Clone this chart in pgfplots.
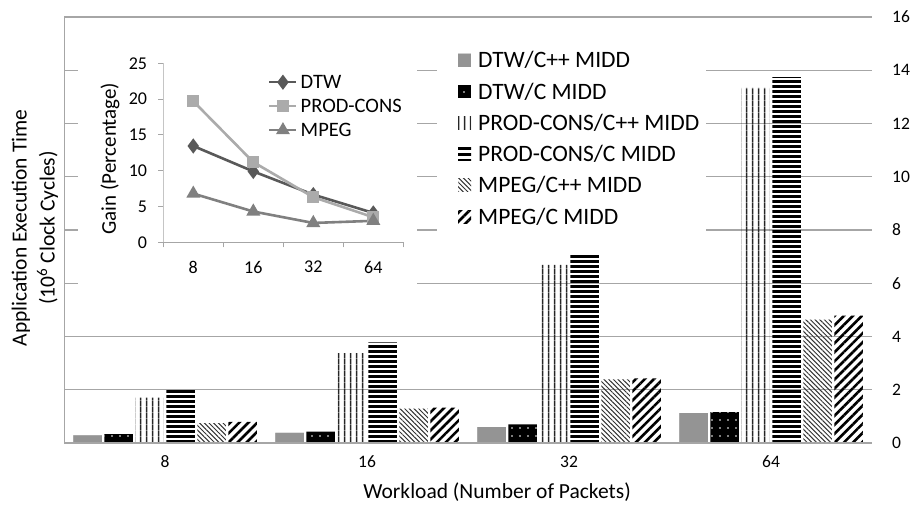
\documentclass[border=0pt]{standalone}
\usepackage{fontspec}
\setmainfont{Carlito}
\usepackage{pgfplots}
\pgfplotsset{compat=1.18}
\usetikzlibrary{patterns,patterns.meta}
\definecolor{gridc}{HTML}{A6A6A6}
\definecolor{axc}{HTML}{A6A6A6}
\definecolor{dtwc}{HTML}{595959}
\definecolor{pcc}{HTML}{ABABAB}
\definecolor{mpegc}{HTML}{808080}
\pgfdeclarepatternformonly{vthick}{\pgfpointorigin}{\pgfpoint{6bp}{6bp}}{\pgfpoint{6bp}{6bp}}{%
  \pgfpathrectangle{\pgfpoint{2.2bp}{-0.5bp}}{\pgfpoint{1.6bp}{7bp}}\pgfusepath{fill}}
\pgfdeclarepatternformonly{hthick}{\pgfpointorigin}{\pgfpoint{5.4bp}{5.4bp}}{\pgfpoint{5.4bp}{5.4bp}}{%
  \pgfpathrectangle{\pgfpoint{-0.5bp}{1.2bp}}{\pgfpoint{6.4bp}{3bp}}\pgfusepath{fill}}
\tikzset{
  patA/.style={draw=none, fill=gray!60, postaction={pattern={Dots[distance=2bp, radius=0.6bp]}, pattern color=black!80}},
  patB/.style={draw=none, fill=black, postaction={pattern={Dots[distance=8bp, radius=0.9bp]}, pattern color=white}},
  patC/.style={draw=none, pattern=vthick, pattern color=black!85},
  patD/.style={draw=none, pattern=hthick, pattern color=black},
  patE/.style={draw=none, pattern={Lines[angle=-45, distance=3.3bp, line width=1bp]}, pattern color=black!80},
  patF/.style={draw=none, pattern={Lines[angle=45, distance=6.4bp, line width=2.6bp]}, pattern color=black},
}
\begin{document}
\begin{tikzpicture}
\useasboundingbox (0,0) rectangle (912bp,508bp);
\begin{axis}[
  at={(64bp,65bp)}, anchor=south west,
  scale only axis, width=808bp, height=426bp,
  xmin=-0.5, xmax=3.5, ymin=0, ymax=16,
  ybar=2.5bp, bar width=28.5bp,
  xtick={0,1,2,3}, xticklabels={8,16,32,64},
  ytick={0,2,...,16},
  yticklabel pos=right,
  axis line style={draw=none},
  major tick length=0pt,
  ymajorgrids, grid style={gridc, line width=1.1bp},
  /pgf/number format/assume math mode=true,
  tick label style={font=\fontsize{17.5bp}{20bp}\selectfont, inner sep=0pt},
  yticklabel style={anchor=west, xshift=20bp},
  xticklabel style={anchor=center, yshift=-19bp},
  xlabel={Workload (Number of Packets)},
  xlabel style={at={(axis description cs:0.536,-0.115)}, anchor=center, font=\fontsize{21.5bp}{26bp}\selectfont},
  ylabel={Application Execution Time\\(10\textsuperscript{6} Clock Cycles)},
  ylabel style={at={(axis description cs:-0.0359,0.505)}, anchor=center, align=center, font=\fontsize{21.5bp}{28bp}\selectfont},
  legend cell align=left,
  legend image code/.code={\path[#1] (0bp,-6.5bp) rectangle (13bp,6.5bp);},
  legend style={at={(0.4876,0.9358)}, anchor=north west, draw=none, fill=none, inner sep=0pt, row sep=0pt,
    /tikz/every odd column/.append style={column sep=7bp},
    nodes={inner sep=0pt, font=\fontsize{23.5bp}{28bp}\selectfont, text height=23.25bp, text depth=8.05bp}},
]
\addplot[patA] coordinates {(0,0.29) (1,0.39) (2,0.60) (3,1.12)};
\addplot[patB] coordinates {(0,0.33) (1,0.43) (2,0.70) (3,1.16)};
\addplot[patC] coordinates {(0,1.70) (1,3.38) (2,6.69) (3,13.34)};
\addplot[patD] coordinates {(0,2.04) (1,3.78) (2,7.09) (3,13.74)};
\addplot[patE] coordinates {(0,0.75) (1,1.29) (2,2.39) (3,4.63)};
\addplot[patF] coordinates {(0,0.79) (1,1.33) (2,2.43) (3,4.78)};
\legend{DTW/C++ MIDD, DTW/C MIDD, PROD-CONS/C++ MIDD, PROD-CONS/C MIDD, MPEG/C++ MIDD, MPEG/C MIDD}
\fill[white] (axis cs:1.3465,7.25) rectangle (axis cs:2.678,15.81);
\fill[white] (axis cs:-0.4307,5.37) rectangle (axis cs:1.2475,15.89);
\draw[axc, line width=1.1bp] (axis cs:-0.5,16) -- (axis cs:-0.5,0) -- (axis cs:3.5,0);
\end{axis}
\begin{axis}[
  at={(163.3bp,265.7bp)}, anchor=south west,
  scale only axis, width=240bp, height=179bp,
  xmin=-0.5, xmax=3.5, ymin=0, ymax=25,
  ytick={0,5,...,25},
  xtick={0,1,2,3}, xticklabels={8,16,32,64},
  axis line style={draw=none},
  tick pos=left, tick align=outside,
  major tick length=5bp,
  tick style={axc, line width=1bp},
  xtick style={draw=none},
  extra x ticks={-0.5,0.5,1.5,2.5,3.5},
  extra x tick labels={},
  extra x tick style={xtick style={draw=axc, line width=1bp}},
  /pgf/number format/assume math mode=true,
  tick label style={font=\fontsize{18bp}{21bp}\selectfont, inner sep=0pt},
  yticklabel style={anchor=east, xshift=-11bp},
  xticklabel style={anchor=center, yshift=-19.7bp},
  ylabel={Gain (Percentage)},
  ylabel style={at={(axis description cs:-0.222,0.468)}, anchor=center, font=\fontsize{21bp}{25bp}\selectfont},
  legend cell align=left,
  legend image code/.code={\draw[mark repeat=2, mark phase=2, #1] plot coordinates {(0bp,0bp) (13.5bp,0bp) (27bp,0bp)};},
  legend style={at={(0.436,0.9626)}, anchor=north west, draw=none, fill=none, inner sep=0pt, row sep=0pt,
    /tikz/every odd column/.append style={column sep=3bp},
    nodes={inner sep=0pt, font=\fontsize{20.5bp}{24bp}\selectfont, text height=18.6bp, text depth=5.4bp}},
]
\draw[axc, line width=1bp] (axis cs:-0.5,25) -- (axis cs:-0.5,0) -- (axis cs:3.5,0);
\addplot[dtwc, line width=2.6bp, mark=diamond*, mark size=5.5bp, mark options={solid}] coordinates {(0,13.45) (1,9.9) (2,6.66) (3,4.1)};
\addplot[pcc, line width=2.6bp, mark=square*, mark size=4.8bp, mark options={solid}] coordinates {(0,19.7) (1,11.2) (2,6.3) (3,3.5)};
\addplot[mpegc, line width=2.6bp, mark=triangle*, mark size=5.5bp, mark options={solid}] coordinates {(0,6.8) (1,4.3) (2,2.7) (3,3.0)};
\legend{DTW, PROD-CONS, MPEG}
\end{axis}
\end{tikzpicture}
\end{document}
